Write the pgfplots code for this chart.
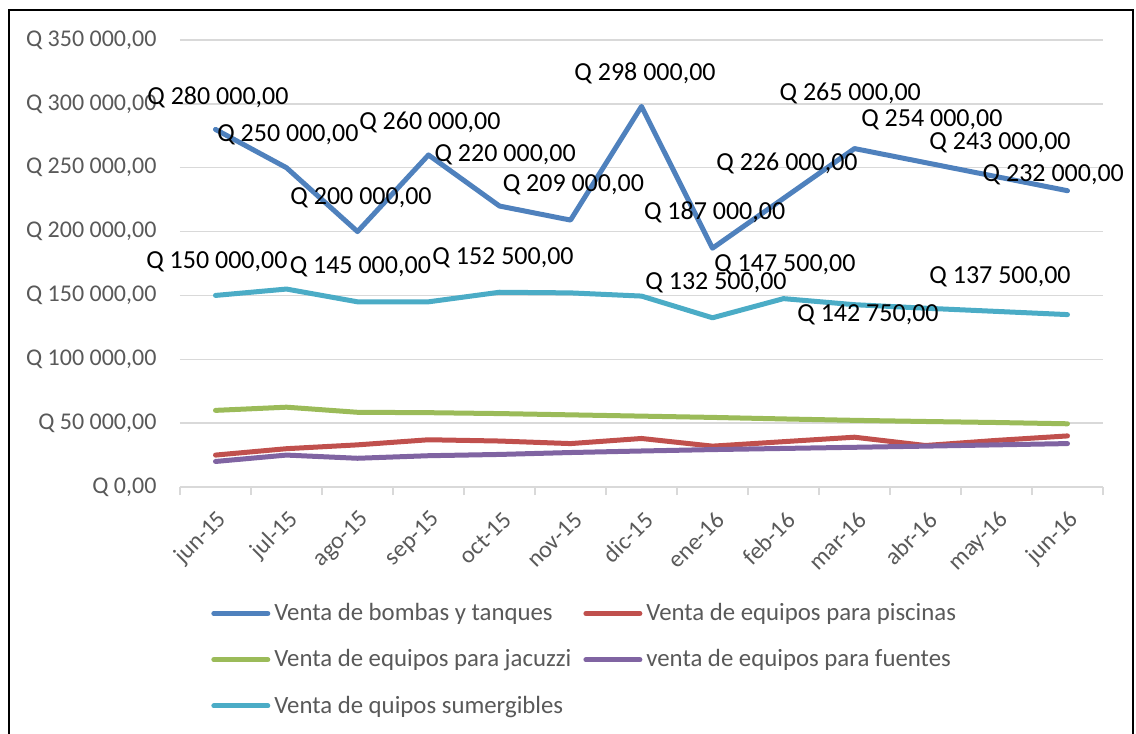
\documentclass[border=0pt]{standalone}
\usepackage{fontspec}
\setmainfont{Carlito}
\usepackage{pgfplots}
\pgfplotsset{compat=1.18}
\definecolor{sBlue}{HTML}{4F81BD}
\definecolor{sRed}{HTML}{C0504D}
\definecolor{sGreen}{HTML}{9BBB59}
\definecolor{sPurple}{HTML}{8064A2}
\definecolor{sCyan}{HTML}{4BACC6}
\definecolor{txtgray}{HTML}{595959}
\definecolor{gridgray}{HTML}{D9D9D9}

\begin{document}
\begin{tikzpicture}
\useasboundingbox (0,0) rectangle (568pt,-367pt);
\draw[line width=1pt] (4.5pt,-400pt) -- (4.5pt,-5pt) -- (566.5pt,-5pt) -- (566.5pt,-400pt);
\begin{axis}[
  at={(90pt,-243.5pt)}, anchor=south west,
  scale only axis, width=461.5pt, height=223.5pt,
  xmin=-0.5, xmax=12.5, ymin=0, ymax=350000,
  clip=false,
  axis x line*=bottom, axis y line*=left,
  x axis line style={gridgray, line width=0.75pt},
  y axis line style={draw=none},
  xtick={0,...,12},
  xticklabels={jun-15,jul-15,ago-15,sep-15,oct-15,nov-15,dic-15,ene-16,feb-16,mar-16,abr-16,may-16,jun-16},
  minor xtick={-0.5,0.5,...,12.5},
  major x tick style={draw=none},
  minor x tick style={gridgray, line width=0.75pt},
  minor tick length=4pt, tick align=outside,
  ytick={0,50000,...,350000},
  yticklabels={{Q 0,00},{Q 50 000,00},{Q 100 000,00},{Q 150 000,00},{Q 200 000,00},{Q 250 000,00},{Q 300 000,00},{Q 350 000,00}},
  major y tick style={draw=none},
  scaled y ticks=false,
  ymajorgrids, grid style={gridgray, line width=0.75pt},
  tick label style={font=\fontsize{12}{14}\selectfont, text=txtgray},
  yticklabel style={anchor=east, xshift=-4pt},
  xticklabel style={rotate=45, anchor=east, yshift=-10pt, xshift=-1pt},
  every axis plot/.append style={line width=2.5pt, line cap=round, line join=round, mark=none},
  legend columns=2,
  legend style={at={(axis description cs:0.027,-0.2416)}, anchor=north west, draw=none,
    font=\fontsize{12.4}{14}\selectfont, text=txtgray, row sep=9pt,
    /tikz/every even column/.append style={column sep=4pt}},
  legend cell align=left,
  legend image code/.code={\draw[#1, line width=2.5pt] (0pt,0pt) -- (27pt,0pt);},
]
\addplot[sBlue] coordinates {(0,280000)(1,250000)(2,200000)(3,260000)(4,220000)(5,209000)(6,298000)(7,187000)(8,226000)(9,265000)(10,254000)(11,243000)(12,232000)};
\addplot[sRed] coordinates {(0,25000)(1,30000)(2,33000)(3,37000)(4,36000)(5,34000)(6,38000)(7,32000)(8,35500)(9,39000)(10,32500)(11,36500)(12,40000)};
\addplot[sGreen] coordinates {(0,60000)(1,62500)(2,58500)(3,58200)(4,57500)(5,56500)(6,55500)(7,54500)(8,53300)(9,52200)(10,51300)(11,50500)(12,49500)};
\addplot[sPurple] coordinates {(0,20000)(1,25000)(2,22500)(3,24500)(4,25500)(5,27000)(6,28200)(7,29300)(8,30200)(9,31100)(10,32000)(11,33000)(12,34000)};
\addplot[sCyan] coordinates {(0,150000)(1,155000)(2,145000)(3,145000)(4,152500)(5,152000)(6,149500)(7,132500)(8,147500)(9,142750)(10,140000)(11,137500)(12,135000)};
\legend{Venta de bombas y tanques, Venta de equipos para piscinas, Venta de equipos para jacuzzi, venta de equipos para fuentes, Venta de quipos sumergibles}

\begin{scope}[every node/.style={font=\fontsize{13}{15}\selectfont, inner sep=0pt}]
\node at (axis cs:0.035,305400) {Q 280 000,00};
\node at (axis cs:1.02,275600) {Q 250 000,00};
\node at (axis cs:2.05,226300) {Q 200 000,00};
\node at (axis cs:3.02,285800) {Q 260 000,00};
\node at (axis cs:4.08,260000) {Q 220 000,00};
\node at (axis cs:5.04,236500) {Q 209 000,00};
\node at (axis cs:6.05,324200) {Q 298 000,00};
\node at (axis cs:7.03,215300) {Q 187 000,00};
\node at (axis cs:8.05,253700) {Q 226 000,00};
\node at (axis cs:8.94,308500) {Q 265 000,00};
\node at (axis cs:10.09,287400) {Q 254 000,00};
\node at (axis cs:11.05,269400) {Q 243 000,00};
\node at (axis cs:11.80,244300) {Q 232 000,00};
\node at (axis cs:0.02,176100) {Q 150 000,00};
\node at (axis cs:2.04,172300) {Q 145 000,00};
\node at (axis cs:4.05,179300) {Q 152 500,00};
\node at (axis cs:7.05,159700) {Q 132 500,00};
\node at (axis cs:8.02,173800) {Q 147 500,00};
\node at (axis cs:9.19,134700) {Q 142 750,00};
\node at (axis cs:11.05,164400) {Q 137 500,00};
\end{scope}
\end{axis}
\end{tikzpicture}
\end{document}
